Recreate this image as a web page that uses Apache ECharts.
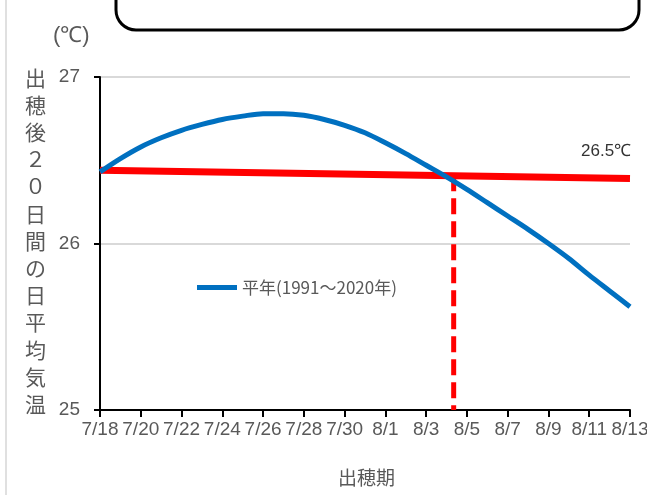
<!DOCTYPE html>
<html><head><meta charset="utf-8">
<script src="https://cdn.jsdelivr.net/npm/echarts@6/dist/echarts.min.js"></script>
<style>html,body{margin:0;padding:0;background:#fff}#c{width:647px;height:495px}</style>
</head><body><div id="c"></div>
<script>
// days after 7/18 (daily)
const dayOffsets = [0,1,2,3,4,5,6,7,8,9,10,11,12,13,14,15,16,17,18,19,20,21,22,23,24,25,26];
const avgTemp = [26.43,26.51,26.58,26.635,26.68,26.715,26.745,26.765,26.78,26.78,26.77,26.745,26.71,26.665,26.605,26.54,26.47,26.40,26.325,26.245,26.165,26.085,26.00,25.91,25.81,25.715,25.62];
const tickLabels = ['7/18','7/20','7/22','7/24','7/26','7/28','7/30','8/1','8/3','8/5','8/7','8/9','8/11','8/13'];
const thresholdX = [0,26];
const thresholdY = [26.44,26.39];
const crossDay = 17.35;
const crossTemp = 26.41;
const yMin = 25, yMax = 27;
const seriesName = '平年(1991～2020年)';

const chart = echarts.init(document.getElementById('c'));
const gray = '#595959';
const numFont = '"Liberation Sans Narrow","Liberation Sans",sans-serif';
const cjkFont = '"Noto Sans CJK JP",sans-serif';

chart.setOption({
  animation:false,
  grid:{left:100,right:17,top:77,bottom:85,containLabel:false,outerBoundsMode:'none'},
  legend:{
    data:[{name:seriesName,icon:'rect'}],
    left:192, top:274, itemWidth:40, itemHeight:5, itemGap:4,
    textStyle:{color:gray,fontSize:17,fontFamily:'"Noto Sans CJK JP","Liberation Sans Narrow",sans-serif'}
  },
  xAxis:{
    type:'value', min:0, max:26, interval:2,
    axisLine:{show:true,onZero:false,lineStyle:{color:'#000',width:2}},
    axisTick:{show:true,length:7,lineStyle:{color:'#000',width:2}},
    splitLine:{show:false},
    axisLabel:{color:gray,fontSize:19,fontFamily:numFont,margin:10,showMinLabel:true,showMaxLabel:true,
      formatter:v=>tickLabels[Math.round(v/2)]}
  },
  yAxis:{
    type:'value', min:yMin, max:yMax, interval:1,
    axisLine:{show:true,lineStyle:{color:'#000',width:2}},
    axisTick:{show:true,length:6,lineStyle:{color:'#000',width:2}},
    splitLine:{show:true,lineStyle:{color:'#d9d9d9',width:2}},
    axisLabel:{color:gray,fontSize:19,fontFamily:numFont,margin:20}
  },
  graphic:[
    {type:'rect',shape:{x:116,y:-40,width:523,height:70,r:20},style:{fill:'none',stroke:'#000',lineWidth:3},z:10},
    {type:'line',shape:{x1:6,y1:0,x2:6,y2:495},style:{stroke:'#e0e0e0',lineWidth:2}},
    {type:'text',left:53,top:25,style:{text:'(℃)',fill:gray,fontSize:22,fontFamily:'"Liberation Sans Narrow",sans-serif'}},
    {type:'text',left:25,top:64,style:{text:'出\n穂\n後\n２\n０\n日\n間\nの\n日\n平\n均\n気\n温',fill:gray,fontSize:21,lineHeight:27.2,fontFamily:cjkFont,align:'center'}},
    {type:'text',left:338,top:468,style:{text:'出穂期',fill:gray,fontSize:19,fontFamily:cjkFont}},
    {type:'text',left:581,top:143,style:{text:'26.5℃',fill:'#333',fontSize:17,fontFamily:numFont}}
  ],
  series:[
    {name:'threshold',type:'line',data:thresholdX.map((x,i)=>[x,thresholdY[i]]),symbol:'none',
      lineStyle:{color:'#ff0000',width:7},z:2},
    {name:'cross',type:'line',data:[[crossDay,crossTemp],[crossDay,yMin]],symbol:'none',
      lineStyle:{color:'#ff0000',width:5,type:[16,7]},z:1},
    {name:seriesName,type:'line',data:dayOffsets.map((d,i)=>[d,avgTemp[i]]),symbol:'none',smooth:0.3,
      itemStyle:{color:'#0070c0'},lineStyle:{color:'#0070c0',width:5},z:3}
  ]
});
</script></body></html>
